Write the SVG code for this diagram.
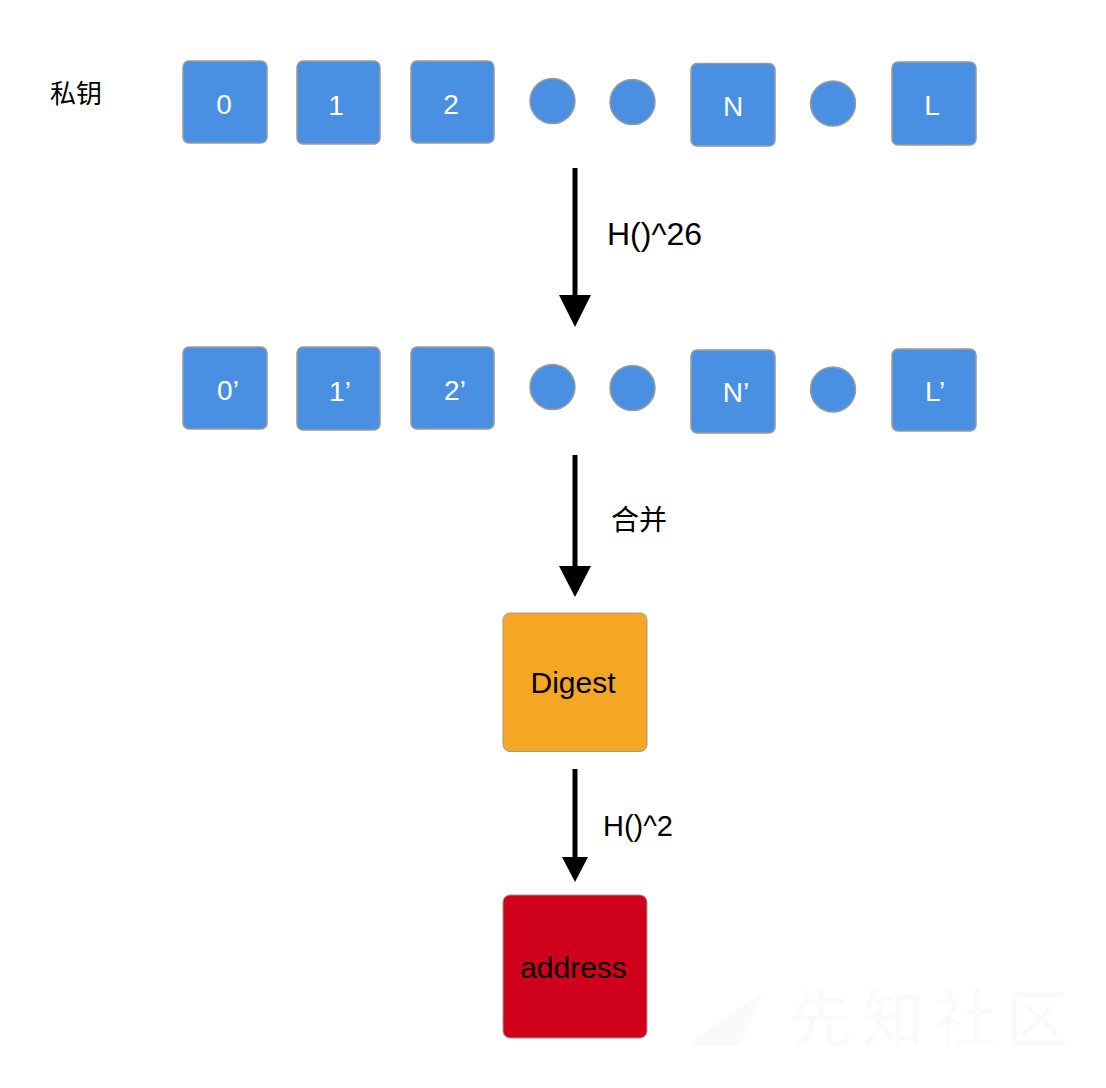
<svg xmlns="http://www.w3.org/2000/svg" width="1106" height="1088" viewBox="0 0 1106 1088">
<style>
.b{fill:#4A90E2;stroke:#9B9B9B;stroke-width:1.5}
.c{fill:#4A90E2;stroke:#9B9B9B;stroke-width:1.5}
.t{font-family:"Liberation Sans","Noto Sans CJK SC",sans-serif;font-size:28px;fill:#fff;text-anchor:middle}
.lbl{font-family:"Liberation Sans","Noto Sans CJK SC",sans-serif;fill:#000}
.ln{stroke:#000;stroke-width:5;fill:none}
</style>
<rect width="1106" height="1088" fill="#fff"/>
<text x="50" y="103" class="lbl" font-size="26">私钥</text>
<g id="row1">
<g id="n0"><rect class="b" x="183" y="61" width="84" height="82" rx="6"/><text class="t" x="224" y="114">0</text></g>
<g id="n1"><rect class="b" x="297" y="61" width="83" height="83" rx="6"/><text class="t" x="336" y="115">1</text></g>
<g id="n2"><rect class="b" x="411" y="61" width="83" height="82" rx="6"/><text class="t" x="451" y="114">2</text></g>
<g id="d1"><circle class="c" cx="552.5" cy="101" r="22.5"/></g>
<g id="d2"><circle class="c" cx="632.5" cy="102" r="22.5"/></g>
<g id="nN"><rect class="b" x="691" y="63.5" width="84" height="82.5" rx="6"/><text class="t" x="733" y="116">N</text></g>
<g id="d3"><circle class="c" cx="833" cy="103.5" r="22.5"/></g>
<g id="nL"><rect class="b" x="892" y="62" width="84" height="83" rx="6"/><text class="t" x="932" y="115">L</text></g>
</g>
<g id="row2">
<g id="m0"><rect class="b" x="183" y="347" width="84" height="82" rx="6"/><text class="t" x="228" y="400">0’</text></g>
<g id="m1"><rect class="b" x="297" y="347" width="83" height="83" rx="6"/><text class="t" x="340" y="401">1’</text></g>
<g id="m2"><rect class="b" x="411" y="347" width="83" height="82" rx="6"/><text class="t" x="455" y="400">2’</text></g>
<g id="e1"><circle class="c" cx="552.5" cy="387" r="22.5"/></g>
<g id="e2"><circle class="c" cx="632.5" cy="388" r="22.5"/></g>
<g id="mN"><rect class="b" x="691" y="350" width="84" height="83" rx="6"/><text class="t" x="736" y="402">N’</text></g>
<g id="e3"><circle class="c" cx="833" cy="389.5" r="22.5"/></g>
<g id="mL"><rect class="b" x="892" y="349" width="84" height="82" rx="6"/><text class="t" x="935" y="401">L’</text></g>
</g>
<g id="digest"><rect x="503" y="613" width="144" height="138.5" rx="7" fill="#F5A623" stroke="#9B9B9B" stroke-width="1"/><text x="573" y="693" class="lbl" font-size="30" text-anchor="middle">Digest</text></g>
<g id="address"><rect x="503" y="895" width="144" height="143" rx="7" fill="#D0021B" stroke="#9B9B9B" stroke-width="1"/><text x="573.5" y="978" class="lbl" font-size="30" text-anchor="middle">address</text></g>
<g id="connectors">
<line class="ln" x1="575" y1="168" x2="575" y2="298"/>
<path d="M559,295 L591,295 L575,327 Z" fill="#000"/>
<line class="ln" x1="575" y1="455" x2="575" y2="570"/>
<path d="M559,566 L591,566 L575,597 Z" fill="#000"/>
<line class="ln" x1="575" y1="769" x2="575" y2="860" stroke-width="4.5"/>
<path d="M562,857 L588,857 L575,882 Z" fill="#000"/>
<text x="607" y="245" class="lbl" font-size="32">H()^26</text>
<text x="611" y="530" class="lbl" font-size="28">合并</text>
<text x="603" y="836" class="lbl" font-size="29">H()^2</text>
</g>
<g id="watermark">
<path d="M688,1045 L740,1045 L762,992 Z" fill="#fafafa"/>
<text x="790" y="1042" font-family="Noto Sans CJK SC,sans-serif" font-size="62" fill="#fafafa" letter-spacing="10">先知社区</text>
</g>
</svg>
